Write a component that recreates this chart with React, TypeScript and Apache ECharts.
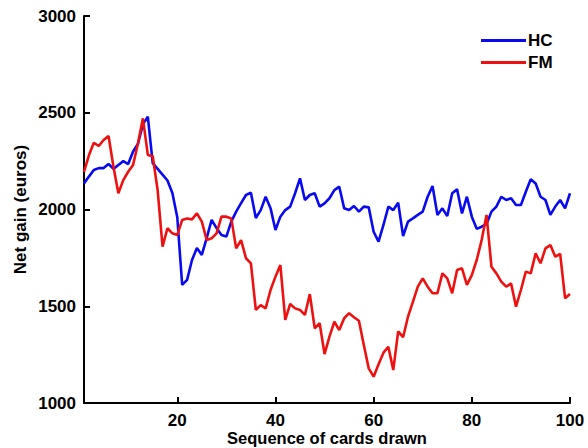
import React, { useEffect, useRef } from "react";
import * as echarts from "echarts";

const cards: number[] = Array.from({ length: 100 }, (_, i) => i + 1);

const hcValues: number[] = [
  2135, 2170, 2204, 2214, 2214, 2235, 2210, 2230, 2250, 2235,
  2300, 2340, 2440, 2480, 2240, 2210, 2180, 2150, 2085, 1960,
  1610, 1636, 1739, 1801, 1765, 1853, 1946, 1904, 1868, 1860,
  1937, 1989, 2033, 2075, 2087, 1956, 1997, 2066, 2007, 1894,
  1963, 1997, 2015, 2084, 2161, 2049, 2075, 2084, 2015, 2032,
  2058, 2100, 2118, 2006, 1997, 2018, 1989, 2015, 2011, 1885,
  1834, 1920, 2015, 1997, 2035, 1863, 1937, 1954, 1972, 1989,
  2066, 2121, 1972, 2006, 1966, 2084, 2104, 1980, 2066, 1963,
  1900, 1911, 1925, 1989, 2015, 2066, 2049, 2058, 2023, 2023,
  2092, 2156, 2135, 2066, 2049, 1972, 2015, 2049, 2006, 2084,
];

const fmValues: number[] = [
  2195, 2280, 2345, 2328, 2359, 2380, 2221, 2084, 2152, 2195,
  2230, 2342, 2471, 2282, 2275, 2100, 1808, 1903, 1877, 1868,
  1946, 1954, 1949, 1980, 1937, 1842, 1851, 1877, 1963, 1963,
  1954, 1799, 1842, 1748, 1722, 1481, 1506, 1489, 1584, 1653,
  1713, 1429, 1512, 1489, 1481, 1455, 1563, 1386, 1412, 1253,
  1343, 1420, 1377, 1438, 1464, 1443, 1425, 1300, 1179, 1136,
  1200, 1260, 1290, 1170, 1370, 1340, 1446, 1523, 1601, 1644,
  1601, 1567, 1567, 1670, 1644, 1567, 1687, 1696, 1610, 1661,
  1739, 1842, 1972, 1704, 1670, 1627, 1601, 1618, 1498, 1584,
  1679, 1670, 1773, 1722, 1799, 1816, 1756, 1770, 1541, 1563,
];

const xTicks: number[] = [20, 40, 60, 80, 100];
const yTicks: number[] = [1000, 1500, 2000, 2500, 3000];
const seriesNames: string[] = ["HC", "FM"];
const seriesColors: string[] = ["#0a0af0", "#ee1111"];

export default function App() {
  const ref = useRef<HTMLDivElement>(null);
  useEffect(() => {
    if (!ref.current) return;
    const chart = echarts.init(ref.current, null, { renderer: "svg" });
    const font = "'Liberation Sans', Arial, sans-serif";
    const axisText = { color: "#000", fontWeight: "bold" as const, fontSize: 17, fontFamily: font };
    chart.setOption({
      animation: false,
      backgroundColor: "#fff",
      grid: { left: 84, right: 18, top: 16, bottom: 45, containLabel: false, outerBoundsMode: "none" },
      legend: {
        orient: "vertical",
        left: 476,
        top: 27,
        itemWidth: 45,
        itemHeight: 3,
        itemGap: 5,
        icon: "rect",
        data: seriesNames,
        textStyle: { ...axisText, padding: [0, 0, 0, -3] },
      },
      xAxis: {
        type: "value",
        min: 1,
        max: 100,
        name: "Sequence of cards drawn",
        nameLocation: "middle",
        nameGap: 26,
        nameMoveOverlap: false,
        nameTextStyle: { ...axisText, fontSize: 16.5 },
        axisLine: { lineStyle: { color: "#000", width: 2 } },
        axisTick: { inside: true, length: 6, customValues: xTicks, lineStyle: { color: "#000", width: 2 } },
        axisLabel: { ...axisText, margin: 9, customValues: xTicks, formatter: (v: number) => String(v) },
        splitLine: { show: false },
      },
      yAxis: {
        type: "value",
        min: 1000,
        max: 3000,
        interval: 500,
        name: "Net gain (euros)",
        nameLocation: "middle",
        nameGap: 55,
        nameMoveOverlap: false,
        nameTextStyle: axisText,
        axisLine: { show: true, lineStyle: { color: "#000", width: 2 } },
        axisTick: { show: true, inside: true, length: 6, customValues: yTicks, lineStyle: { color: "#000", width: 2 } },
        axisLabel: { ...axisText, margin: 8, formatter: (v: number) => String(v) },
        splitLine: { show: false },
      },
      series: [
        {
          name: seriesNames[0],
          type: "line",
          symbol: "none",
          data: cards.map((c, i) => [c, hcValues[i]]),
          lineStyle: { color: seriesColors[0], width: 2.6 },
          itemStyle: { color: seriesColors[0] },
        },
        {
          name: seriesNames[1],
          type: "line",
          symbol: "none",
          data: cards.map((c, i) => [c, fmValues[i]]),
          lineStyle: { color: seriesColors[1], width: 2.6 },
          itemStyle: { color: seriesColors[1] },
        },
      ],
    });
    return () => chart.dispose();
  }, []);
  return (
    <div
      ref={ref}
      style={{ position: "fixed", left: 0, top: 0, width: 588, height: 448, background: "#fff" }}
    />
  );
}
